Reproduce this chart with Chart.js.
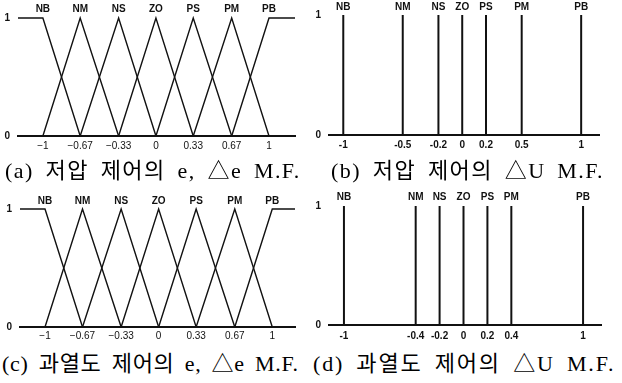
<!DOCTYPE html>
<html>
<head>
<meta charset="utf-8">
<script src="https://cdn.jsdelivr.net/npm/chart.js@4.4.1/dist/chart.umd.min.js"></script>
<style>
  body { margin: 0; background: #fff; width: 622px; height: 383px; position: relative; overflow: hidden; }
  canvas { position: absolute; }
  .cap { position: absolute; font-family: 'Liberation Serif', 'Noto Sans CJK KR', serif; font-size: 22px; color: #000; white-space: nowrap; line-height: 1; letter-spacing: 1.4px; word-spacing: 5px; }
</style>
</head>
<body>
<canvas id="chartA" width="311" height="155" style="left:0;top:0"></canvas>
<canvas id="chartB" width="311" height="155" style="left:311px;top:0"></canvas>
<canvas id="chartC" width="311" height="162" style="left:0;top:180px"></canvas>
<canvas id="chartD" width="311" height="162" style="left:311px;top:180px"></canvas>
<div class="cap" style="left:5px;top:160px">(a) 저압 제어의 e, △e M.F.</div>
<div class="cap" style="left:331px;top:160px">(b) 저압 제어의 △U M.F.</div>
<div class="cap" style="left:2px;top:353px;letter-spacing:0.7px;word-spacing:4px">(c) 과열도 제어의 e, △e M.F.</div>
<div class="cap" style="left:313px;top:353px;letter-spacing:1.8px">(d) 과열도 제어의 △U M.F.</div>
<script>
const termNames = ['NB', 'NM', 'NS', 'ZO', 'PS', 'PM', 'PB'];
const errCenters = [-1, -0.67, -0.33, 0, 0.33, 0.67, 1];
const errTickLabels = ['−1', '−0.67', '−0.33', '0', '0.33', '0.67', '1'];
const duLowCenters = [-1, -0.5, -0.2, 0, 0.2, 0.5, 1];
const duLowTickLabels = ['-1', '-0.5', '-0.2', '0', '0.2', '0.5', '1'];
const duHeatCenters = [-1, -0.4, -0.2, 0, 0.2, 0.4, 1];
const duHeatTickLabels = ['-1', '-0.4', '-0.2', '0', '0.2', '0.4', '1'];

(() => {
  if (typeof Chart === 'undefined') return;

  const ink = '#111';

  // triangles between neighbouring centres, shoulders on both ends
  const triangleSets = (centers, xmin, xmax) => centers.map((c, i) => {
    let pts;
    if (i === 0) pts = [[xmin, 1], [c, 1], [centers[1], 0]];
    else if (i === centers.length - 1) pts = [[centers[i - 1], 0], [c, 1], [xmax, 1]];
    else pts = [[centers[i - 1], 0], [c, 1], [centers[i + 1], 0]];
    return {
      data: pts.map(([x, y]) => ({ x, y })),
      borderColor: ink, borderWidth: 1.4, pointRadius: 0, tension: 0, clip: false
    };
  });

  // singletons: vertical spikes
  const spikeSets = (centers) => centers.map((c) => ({
    data: [{ x: c, y: 0 }, { x: c, y: 1 }],
    borderColor: ink, borderWidth: 2, pointRadius: 0, clip: false
  }));

  const makeChart = (id, datasets, cfg) => {
    const el = document.getElementById(id);
    if (!el) return null;
    const tickFont = { family: 'Liberation Sans, Arial, sans-serif', size: 10, weight: cfg.bold ? 'bold' : 'normal' };
    return new Chart(el, {
      type: 'line',
      data: { datasets },
      options: {
        responsive: false,
        animation: false,
        events: [],
        layout: { padding: { left: 0, right: cfg.right, top: 0, bottom: 0 } },
        plugins: { legend: { display: false }, tooltip: { enabled: false } },
        scales: {
          x: {
            type: 'linear', position: 'bottom', min: cfg.min, max: cfg.max,
            grid: { display: false, drawTicks: false },
            border: { display: true, color: ink, width: 2 },
            afterBuildTicks: (s) => { s.ticks = cfg.centers.map((v) => ({ value: v })); },
            afterFit: (s) => { s.height = cfg.bottom; },
            ticks: {
              color: ink, font: tickFont, padding: cfg.tickPad, autoSkip: false, maxRotation: 0,
              callback: (v, i) => cfg.tickLabels[i]
            }
          },
          top: {
            type: 'linear', position: 'top', min: cfg.min, max: cfg.max,
            grid: { display: false, drawTicks: false },
            border: { display: false },
            afterBuildTicks: (s) => { s.ticks = cfg.centers.map((v) => ({ value: v })); },
            afterFit: (s) => { s.height = cfg.top; },
            ticks: {
              color: ink, font: { family: 'Liberation Sans, Arial, sans-serif', size: 10, weight: 'bold' },
              padding: cfg.namePad, autoSkip: false, maxRotation: 0,
              callback: (v, i) => termNames[i]
            }
          },
          y: {
            min: 0, max: 1,
            grid: { display: false, drawTicks: false },
            border: { display: false },
            afterFit: (s) => { s.width = cfg.left; },
            ticks: { stepSize: 1, color: ink, font: { family: 'Liberation Sans, Arial, sans-serif', size: 10, weight: 'bold' }, padding: 8 }
          }
        }
      }
    });
  };

  makeChart('chartA', triangleSets(errCenters, -1.22, 1.23), {
    min: -1.22, max: 1.23, centers: errCenters, tickLabels: errTickLabels,
    left: 18, right: 16, top: 18, bottom: 19, tickPad: 4, namePad: 3, bold: false
  });
  makeChart('chartB', spikeSets(duLowCenters), {
    min: -1.12, max: 1.15, centers: duLowCenters, tickLabels: duLowTickLabels,
    left: 18, right: 23, top: 15, bottom: 20, tickPad: 4, namePad: 2, bold: true
  });
  makeChart('chartC', triangleSets(errCenters, -1.22, 1.2), {
    min: -1.22, max: 1.2, centers: errCenters, tickLabels: errTickLabels,
    left: 20, right: 16, top: 29, bottom: 15, tickPad: 3, namePad: 2, bold: false
  });
  makeChart('chartD', spikeSets(duHeatCenters), {
    min: -1.125, max: 1.15, centers: duHeatCenters, tickLabels: duHeatTickLabels,
    left: 18, right: 21, top: 26, bottom: 17, tickPad: 5, namePad: 3, bold: true
  });
})();
</script>
</body>
</html>
